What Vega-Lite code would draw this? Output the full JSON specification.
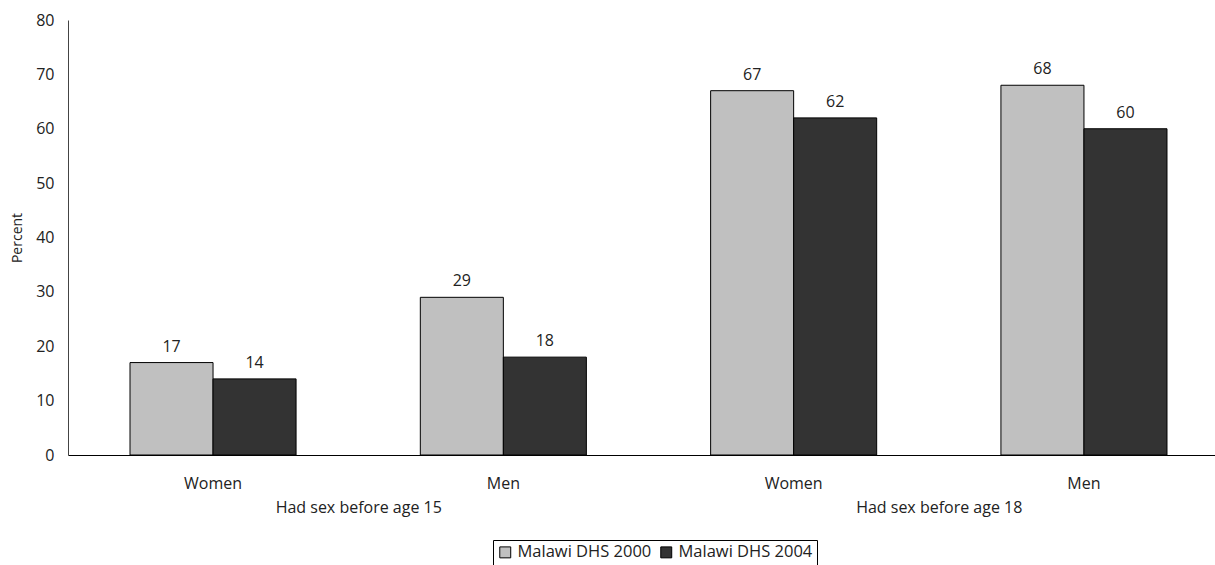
{
  "$schema": "https://vega.github.io/schema/vega-lite/v6.json",
  "width": 1161,
  "height": 435,
  "padding": {"left": 10, "top": 12, "right": 0, "bottom": 0},
  "background": "white",
  "config": {
    "font": "Open Sans",
    "view": {"stroke": null},
    "axis": {"grid": false, "labelFont": "Open Sans", "titleFont": "Open Sans", "labelColor": "#222", "titleColor": "#222"},
    "legend": {"labelFont": "Open Sans"}
  },
  "layer": [
    {
      "data": {
        "values": [
          {"group": "15 Women", "age": "Had sex before age 15", "survey": "Malawi DHS 2000", "value": 17},
          {"group": "15 Women", "age": "Had sex before age 15", "survey": "Malawi DHS 2004", "value": 14},
          {"group": "15 Men", "age": "Had sex before age 15", "survey": "Malawi DHS 2000", "value": 29},
          {"group": "15 Men", "age": "Had sex before age 15", "survey": "Malawi DHS 2004", "value": 18},
          {"group": "18 Women", "age": "Had sex before age 18", "survey": "Malawi DHS 2000", "value": 67},
          {"group": "18 Women", "age": "Had sex before age 18", "survey": "Malawi DHS 2004", "value": 62},
          {"group": "18 Men", "age": "Had sex before age 18", "survey": "Malawi DHS 2000", "value": 68},
          {"group": "18 Men", "age": "Had sex before age 18", "survey": "Malawi DHS 2004", "value": 60}
        ]
      },
      "encoding": {
        "x": {
          "field": "group", "type": "nominal", "sort": null,
          "scale": {"paddingInner": 0.428, "paddingOuter": 0.2136},
          "axis": {"title": null, "labelAngle": 0, "ticks": false, "domainColor": "black", "labelFontSize": 16, "labelPadding": 20, "labelExpr": "split(datum.label, ' ')[1]"}
        },
        "xOffset": {"field": "survey", "type": "nominal", "scale": {"paddingInner": 0, "paddingOuter": 0}},
        "y": {
          "field": "value", "type": "quantitative",
          "scale": {"domain": [0, 80]},
          "axis": {"title": "Percent", "values": [0,10,20,30,40,50,60,70,80], "ticks": false, "domainColor": "#444", "labelFontSize": 16, "labelPadding": 14, "titleFontSize": 14, "titleFontWeight": "normal", "titlePadding": 11}
        }
      },
      "layer": [
        {
          "mark": {"type": "bar", "stroke": "black", "strokeWidth": 1},
          "encoding": {
            "color": {
              "field": "survey", "type": "nominal",
              "scale": {"range": ["#c0c0c0", "#333333"]},
              "legend": {"title": null, "orient": "none", "legendX": 425, "legendY": 520, "direction": "horizontal", "symbolType": "square", "symbolSize": 120, "symbolStrokeColor": "black", "symbolStrokeWidth": 1, "symbolOpacity": 1, "labelFontSize": 16.5, "labelColor": "#222", "strokeColor": "black", "padding": 4, "columnPadding": 6, "labelOffset": 4}
            }
          }
        },
        {
          "mark": {"type": "text", "baseline": "bottom", "dy": -8, "fontSize": 16, "color": "#222"},
          "encoding": {
            "text": {"field": "value", "type": "quantitative"}
          }
        }
      ]
    },
    {
      "data": {"values": [{"age": "Had sex before age 15"}, {"age": "Had sex before age 18"}]},
      "mark": {"type": "point", "opacity": 0},
      "encoding": {
        "x": {
          "field": "age", "type": "nominal", "sort": null,
          "scale": {"paddingInner": 0, "paddingOuter": 0},
          "axis": {"title": null, "orient": "bottom", "labelAngle": 0, "ticks": false, "domain": false, "labelFontSize": 16, "labelPadding": 44}
        }
      }
    }
  ],
  "resolve": {"scale": {"x": "independent"}, "axis": {"x": "independent"}}
}
